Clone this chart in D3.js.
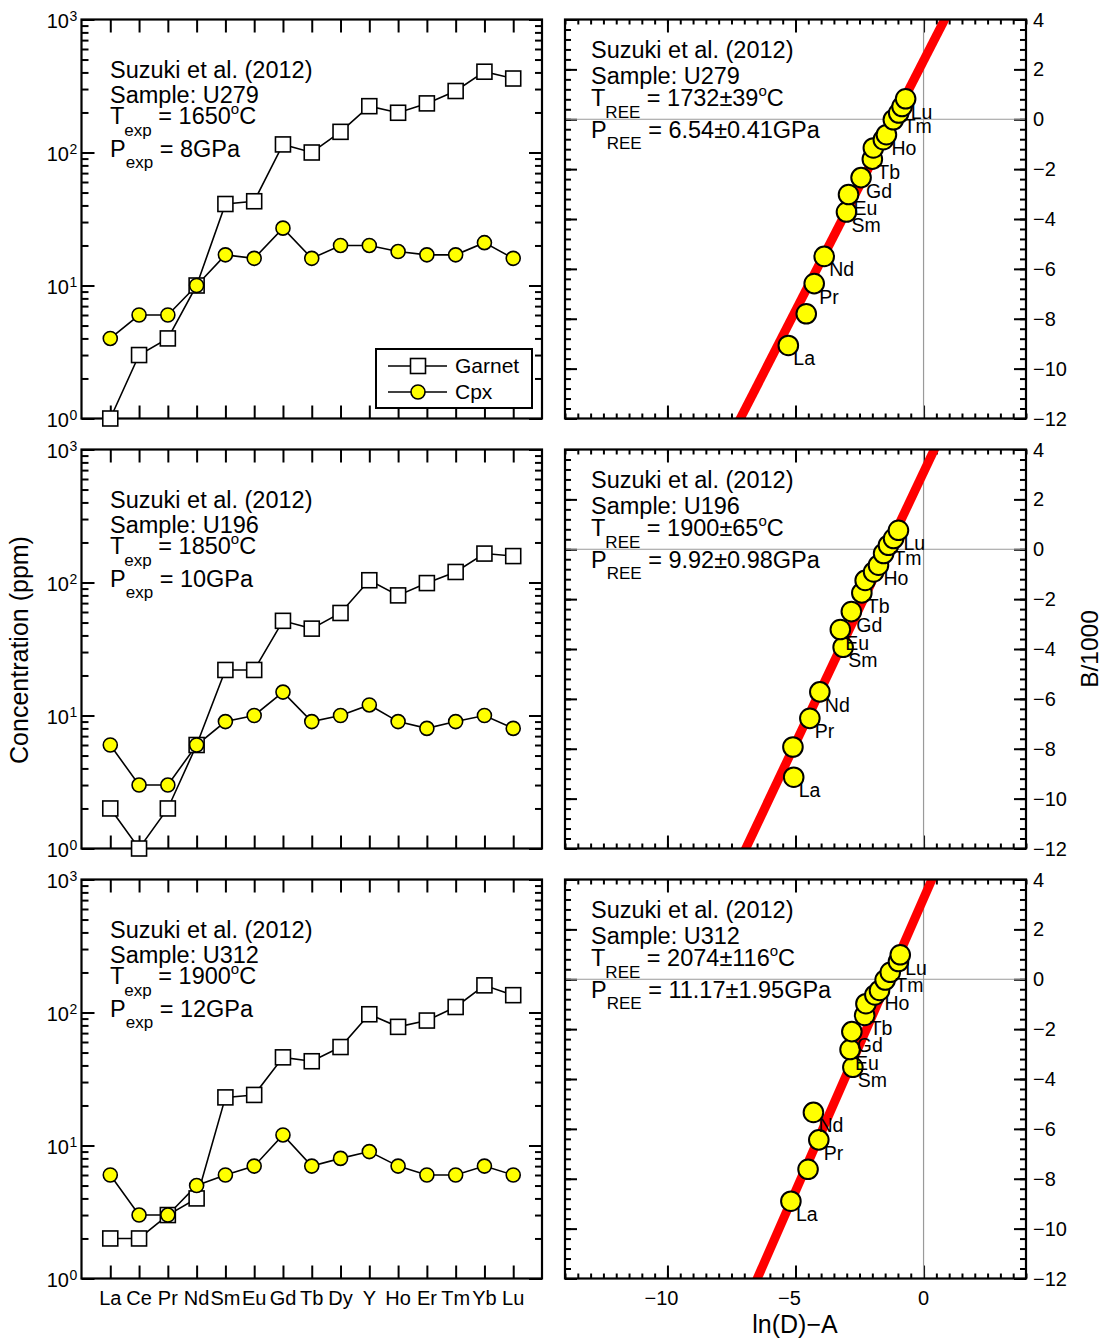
<!DOCTYPE html>
<html>
<head>
<meta charset="utf-8">
<script src="https://cdn.jsdelivr.net/npm/d3@7"></script>
<style>
  html, body { margin: 0; padding: 0; background: #fff; }
  svg { display: block; }
</style>
</head>
<body>
<script>
// REE patterns (garnet / cpx) and REE thermobarometer plots for three Suzuki et al. (2012) runs
const elements = ["La","Ce","Pr","Nd","Sm","Eu","Gd","Tb","Dy","Y","Ho","Er","Tm","Yb","Lu"];
const labelledElements = ["La","Pr","Nd","Sm","Eu","Gd","Tb","Ho","Tm","Lu"];

const samples = ["U279","U196","U312"];
const expTemps = ["1650","1850","1900"];
const expPressures = ["8","10","12"];
const reeTemps = ["1732±39","1900±65","2074±116"];
const reePressures = ["6.54±0.41","9.92±0.98","11.17±1.95"];

// Concentrations (ppm)
const garnetU279 = [1, 3, 4, 10, 41, 43, 115, 100, 143, 223, 199, 234, 290, 405, 360];
const cpxU279    = [4, 6, 6, 10, 17, 16, 27, 16, 20, 20, 18, 17, 17, 21, 16];
const garnetU196 = [2, 1, 2, 6, 22, 22, 51.5, 45, 59, 104, 80, 99, 120, 165, 158];
const cpxU196    = [6, 3, 3, 6, 9, 10, 15, 9, 10, 12, 9, 8, 9, 10, 8];
const garnetU312 = [2, 2, 3, 4, 23, 24, 46, 43, 55, 97, 78, 87, 110, 160, 135];
const cpxU312    = [6, 3, 3, 5, 6, 7, 12, 7, 8, 9, 7, 6, 6, 7, 6];

// ln(D)-A and B/1000 for each element
const lnDAU279 = [-5.28, -4.58, -4.27, -3.88, -3.01, -2.93, -2.44, -2.00, -1.96, -1.57, -1.45, -1.18, -0.97, -0.84, -0.70];
const bU279    = [-9.07, -7.80, -6.59, -5.50, -3.72, -3.02, -2.34, -1.60, -1.15, -0.82, -0.62, -0.02, 0.25, 0.51, 0.82];
const lnDAU196 = [-5.07, -5.10, -4.44, -4.05, -3.14, -3.25, -2.82, -2.41, -2.28, -1.95, -1.76, -1.56, -1.37, -1.17, -0.98];
const bU196    = [-9.14, -7.93, -6.78, -5.72, -3.93, -3.22, -2.50, -1.75, -1.25, -0.91, -0.64, -0.17, 0.16, 0.43, 0.76];
const lnDAU312 = [-5.18, -4.51, -4.09, -4.30, -2.76, -2.87, -2.80, -2.30, -2.25, -1.90, -1.72, -1.50, -1.30, -0.98, -0.91];
const bU312    = [-8.90, -7.62, -6.44, -5.34, -3.53, -2.82, -2.10, -1.45, -0.98, -0.63, -0.45, -0.03, 0.28, 0.71, 0.98];

// Fit lines: slope = T(K)/1000, zero crossing on the ln(D)-A axis
const fitTempC = [1732, 1900, 2074];
const fitZero  = [-1.17, -1.42, -1.38];

const garnetSeries = [garnetU279, garnetU196, garnetU312];
const cpxSeries = [cpxU279, cpxU196, cpxU312];
const lnDASeries = [lnDAU279, lnDAU196, lnDAU312];
const bSeries = [bU279, bU196, bU312];

const logMajor = [1, 10, 100, 1000];
const logExp = ["0", "1", "2", "3"];
const bTicks = [4, 2, 0, -2, -4, -6, -8, -10, -12];
const lnTicks = [-10, -5, 0];

const W = 1104, H = 1343;
const FONT = "'Liberation Sans', Arial, Helvetica, sans-serif";
const rowTop = [19.5, 449.5, 879.5];
const PH = 399;
const LX = [81.5, 542];
const RX = [565, 1026];
const MINUS = "\u2212";

const svg = d3.select("body").append("svg")
  .attr("width", W).attr("height", H)
  .style("font-family", FONT);

const defs = svg.append("defs");

function styleAxis(g) {
  g.select(".domain").remove();
  g.selectAll(".tick line").attr("stroke", "#000").attr("stroke-width", 2);
  g.selectAll(".tick text").remove();
}

function annotate(g, x, top, lines, sub) {
  // lines: [title, sample, T value, P value]
  const t = g.append("g").attr("font-size", 23.5).attr("fill", "#000");
  const base = sub === "exp" ? [58, 83, 104, 137] : [38, 64, 86, 118];
  t.append("text").attr("x", x).attr("y", top + base[0]).text(lines[0]);
  t.append("text").attr("x", x).attr("y", top + base[1]).text(lines[1]);
  const tt = t.append("text").attr("x", x).attr("y", top + base[2]);
  tt.append("tspan").text("T");
  tt.append("tspan").attr("font-size", 17).attr("dy", 12).text(sub);
  tt.append("tspan").attr("dy", -12).text(" = " + lines[2]);
  tt.append("tspan").attr("font-size", 15).attr("dy", -10).text("o");
  tt.append("tspan").attr("dy", 10).text("C");
  const pt = t.append("text").attr("x", x).attr("y", top + base[3]);
  pt.append("tspan").text("P");
  pt.append("tspan").attr("font-size", 17).attr("dy", 11).text(sub);
  pt.append("tspan").attr("dy", -11).text(" = " + lines[3] + "GPa");
}

samples.forEach((s, i) => {
  const top = rowTop[i], bottom = top + PH;

  // ---------- left: concentration patterns ----------
  const x = d3.scaleLinear().domain([-1, 15]).range(LX);
  const y = d3.scaleLog().domain([1, 1000]).range([bottom, top]);
  const gL = svg.append("g");

  const minor = [];
  [1, 10, 100].forEach(d => { for (let k = 2; k <= 9; k++) minor.push(d * k); });

  gL.append("g").attr("transform", `translate(${LX[0]},0)`)
    .call(d3.axisLeft(y).tickValues(minor).tickSize(-7)).call(styleAxis);
  gL.append("g").attr("transform", `translate(${LX[0]},0)`)
    .call(d3.axisLeft(y).tickValues(logMajor).tickSize(-13)).call(styleAxis);
  gL.append("g").attr("transform", `translate(${LX[1]},0)`)
    .call(d3.axisRight(y).tickValues(minor).tickSize(-7)).call(styleAxis);
  gL.append("g").attr("transform", `translate(${LX[1]},0)`)
    .call(d3.axisRight(y).tickValues(logMajor).tickSize(-13)).call(styleAxis);
  gL.append("g").attr("transform", `translate(0,${top})`)
    .call(d3.axisTop(x).tickValues(d3.range(15)).tickSize(-13)).call(styleAxis);
  gL.append("g").attr("transform", `translate(0,${bottom})`)
    .call(d3.axisBottom(x).tickValues(d3.range(15)).tickSize(-13)).call(styleAxis);

  // log tick labels 10^n
  logMajor.forEach((v, k) => {
    gL.append("text").attr("x", 69).attr("y", y(v) + 8)
      .attr("text-anchor", "end").attr("font-size", 20).text("10");
    gL.append("text").attr("x", 69.5).attr("y", y(v) + 1)
      .attr("font-size", 14).text(logExp[k]);
  });

  gL.append("rect").attr("x", LX[0]).attr("y", top)
    .attr("width", LX[1] - LX[0]).attr("height", PH)
    .attr("fill", "none").attr("stroke", "#000").attr("stroke-width", 2.2);

  const line = d3.line().x((d, k) => x(k)).y(d => y(d));
  gL.append("path").datum(garnetSeries[i]).attr("d", line)
    .attr("fill", "none").attr("stroke", "#000").attr("stroke-width", 1.6);
  gL.append("path").datum(cpxSeries[i]).attr("d", line)
    .attr("fill", "none").attr("stroke", "#000").attr("stroke-width", 1.6);

  gL.selectAll(".sq").data(garnetSeries[i]).join("rect")
    .attr("x", (d, k) => x(k) - 7.5).attr("y", d => y(d) - 7.5)
    .attr("width", 15).attr("height", 15)
    .attr("fill", "#fff").attr("stroke", "#000").attr("stroke-width", 1.6);
  gL.selectAll(".ci").data(cpxSeries[i]).join("circle")
    .attr("cx", (d, k) => x(k)).attr("cy", d => y(d)).attr("r", 7)
    .attr("fill", "#ffff00").attr("stroke", "#000").attr("stroke-width", 1.6);

  annotate(gL, 110, top, ["Suzuki et al. (2012)", "Sample: " + s, expTemps[i], expPressures[i]], "exp");

  if (i === 0) {
    const lg = gL.append("g");
    lg.append("rect").attr("x", 376).attr("y", 349).attr("width", 156).attr("height", 59)
      .attr("fill", "#fff").attr("stroke", "#000").attr("stroke-width", 2);
    [["Garnet", 366], ["Cpx", 392]].forEach(([name, yy], k) => {
      lg.append("line").attr("x1", 388).attr("x2", 447).attr("y1", yy).attr("y2", yy)
        .attr("stroke", "#000").attr("stroke-width", 1.6);
      if (k === 0) {
        lg.append("rect").attr("x", 418 - 7.5).attr("y", yy - 7.5).attr("width", 15).attr("height", 15)
          .attr("fill", "#fff").attr("stroke", "#000").attr("stroke-width", 1.6);
      } else {
        lg.append("circle").attr("cx", 418).attr("cy", yy).attr("r", 7)
          .attr("fill", "#ffff00").attr("stroke", "#000").attr("stroke-width", 1.6);
      }
      lg.append("text").attr("x", 455).attr("y", yy + 7).attr("font-size", 21).text(name);
    });
  }

  if (i === 2) {
    gL.selectAll(".cat").data(elements).join("text")
      .attr("x", (d, k) => x(k)).attr("y", 1305)
      .attr("text-anchor", "middle").attr("font-size", 20).text(d => d);
  }

  // ---------- right: B/1000 vs ln(D)-A ----------
  const xr = d3.scaleLinear().domain([-14, 4]).range(RX);
  const yr = d3.scaleLinear().domain([-12, 4]).range([bottom, top]);
  const gR = svg.append("g");

  const clipId = "clip" + i;
  defs.append("clipPath").attr("id", clipId).append("rect")
    .attr("x", RX[0]).attr("y", top).attr("width", RX[1] - RX[0]).attr("height", PH);

  const xMinor = d3.range(-14, 4.001, 0.5);
  const yMinor = d3.range(-12, 4.001, 0.4).map(v => +v.toFixed(2));
  const yMajor = d3.range(-12, 4.001, 2);

  gR.append("g").attr("transform", `translate(0,${top})`)
    .call(d3.axisTop(xr).tickValues(xMinor).tickSize(-5)).call(styleAxis);
  gR.append("g").attr("transform", `translate(0,${top})`)
    .call(d3.axisTop(xr).tickValues(lnTicks).tickSize(-13)).call(styleAxis);
  gR.append("g").attr("transform", `translate(0,${bottom})`)
    .call(d3.axisBottom(xr).tickValues(xMinor).tickSize(-5)).call(styleAxis);
  gR.append("g").attr("transform", `translate(0,${bottom})`)
    .call(d3.axisBottom(xr).tickValues(lnTicks).tickSize(-13)).call(styleAxis);
  gR.append("g").attr("transform", `translate(${RX[0]},0)`)
    .call(d3.axisLeft(yr).tickValues(yMinor).tickSize(-6)).call(styleAxis);
  gR.append("g").attr("transform", `translate(${RX[0]},0)`)
    .call(d3.axisLeft(yr).tickValues(yMajor).tickSize(-12)).call(styleAxis);
  gR.append("g").attr("transform", `translate(${RX[1]},0)`)
    .call(d3.axisRight(yr).tickValues(yMinor).tickSize(-6)).call(styleAxis);
  gR.append("g").attr("transform", `translate(${RX[1]},0)`)
    .call(d3.axisRight(yr).tickValues(yMajor).tickSize(-12)).call(styleAxis);

  // zero reference lines
  gR.append("line").attr("x1", xr(0)).attr("x2", xr(0)).attr("y1", top).attr("y2", bottom)
    .attr("stroke", "#9a9a9a").attr("stroke-width", 1.2);
  gR.append("line").attr("x1", RX[0]).attr("x2", RX[1]).attr("y1", yr(0)).attr("y2", yr(0))
    .attr("stroke", "#9a9a9a").attr("stroke-width", 1.2);

  // right tick labels
  bTicks.forEach(v => {
    gR.append("text").attr("x", 1033).attr("y", yr(v) + 7)
      .attr("font-size", 20).text(v < 0 ? MINUS + Math.abs(v) : String(v));
  });

  // fit line (slope from temperature in K)
  const slope = (fitTempC[i] + 273.15) / 1000;
  const fx = b => fitZero[i] + b / slope;
  gR.append("line")
    .attr("clip-path", `url(#${clipId})`)
    .attr("x1", xr(fx(-13))).attr("y1", yr(-13))
    .attr("x2", xr(fx(5))).attr("y2", yr(5))
    .attr("stroke", "#ff0000").attr("stroke-width", 9);

  gR.append("rect").attr("x", RX[0]).attr("y", top)
    .attr("width", RX[1] - RX[0]).attr("height", PH)
    .attr("fill", "none").attr("stroke", "#000").attr("stroke-width", 2.2);

  // points drawn La -> Lu, each followed by its label
  const pts = elements.map((e, k) => ({ e, x: lnDASeries[i][k], y: bSeries[i][k] }));
  pts.forEach(p => {
    gR.append("circle").attr("cx", xr(p.x)).attr("cy", yr(p.y)).attr("r", 9.8)
      .attr("fill", "#ffff00").attr("stroke", "#000").attr("stroke-width", 2);
    if (labelledElements.includes(p.e)) {
      gR.append("text").attr("x", xr(p.x) + 5).attr("y", yr(p.y) + 20)
        .attr("font-size", 19.5).text(p.e);
    }
  });

  annotate(gR, 591, top, ["Suzuki et al. (2012)", "Sample: " + s, reeTemps[i], reePressures[i]], "REE");

  if (i === 2) {
    // negative labels: digits centred on the tick, minus sign hanging to the left
    lnTicks.forEach(v => {
      const tx = gR.append("text").attr("y", 1305).attr("font-size", 20);
      if (v < 0) {
        tx.attr("x", xr(v) - 6).attr("text-anchor", "middle").text(MINUS + Math.abs(v));
      } else {
        tx.attr("x", xr(v)).attr("text-anchor", "middle").text(String(v));
      }
    });
  }
});

// axis titles
svg.append("text").attr("transform", "translate(28,650) rotate(-90)")
  .attr("text-anchor", "middle").attr("font-size", 25).text("Concentration (ppm)");
svg.append("text").attr("transform", "translate(1098,649) rotate(-90)")
  .attr("text-anchor", "middle").attr("font-size", 24.5).text("B/1000");
svg.append("text").attr("x", 795).attr("y", 1333)
  .attr("text-anchor", "middle").attr("font-size", 25).text("ln(D)" + MINUS + "A");
</script>
</body>
</html>
